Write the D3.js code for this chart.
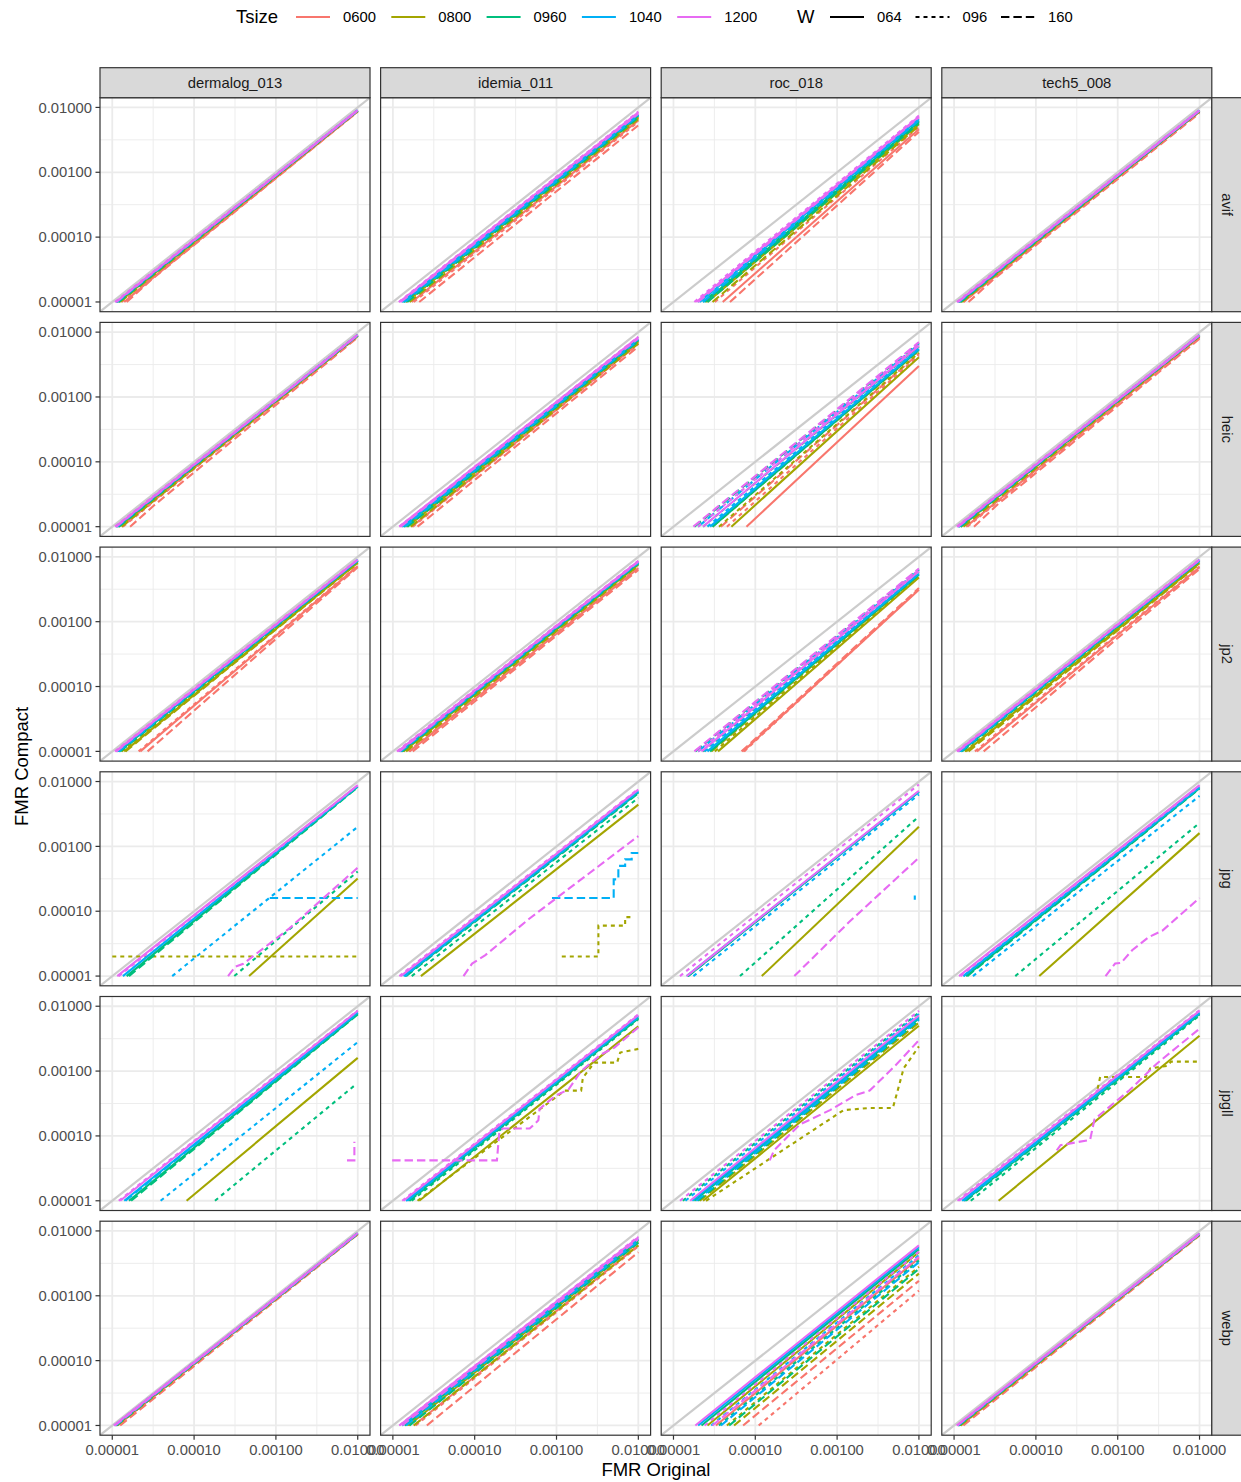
<!DOCTYPE html>
<html>
<head>
<meta charset="utf-8">
<script src="https://cdn.jsdelivr.net/npm/d3@7"></script>
<style>
  body { margin: 0; background: #fff; }
  text { font-family: "Liberation Sans", Arial, Helvetica, sans-serif; }
</style>
</head>
<body>
<div id="chart"></div>
<script>
// facets, groups and ticks
const algorithms = ["dermalog_013", "idemia_011", "roc_018", "tech5_008"];
const formats = ["avif", "heic", "jp2", "jpg", "jpgll", "webp"];
const tsizes = ["0600", "0800", "0960", "1040", "1200"];
const widths = ["064", "096", "160"];
const majorBreaks = [1e-5, 1e-4, 1e-3, 1e-2];
const minorBreaks = [3.1623e-5, 3.1623e-4, 3.1623e-3];
const tickLabels = ["0.00001", "0.00010", "0.00100", "0.01000"];

// each series: [algorithm, Tsize, W, [x, y, x, y, ...]] (FMR original, FMR compact)
const avif = [
  ["dermalog_013", "0600", "064", [1.4e-5, 1e-5, 2.8e-5, 2.1e-5, 1e-2, 8.7e-3]],
  ["dermalog_013", "0600", "096", [1.3e-5, 1e-5, 1e-2, 8.8e-3]],
  ["dermalog_013", "0600", "160", [1.5e-5, 1e-5, 3e-5, 2.2e-5, 1e-2, 8.6e-3]],
  ["dermalog_013", "0800", "064", [1.2e-5, 1e-5, 1e-2, 8.9e-3]],
  ["dermalog_013", "0800", "096", [1.15e-5, 1e-5, 1e-2, 8.9e-3]],
  ["dermalog_013", "0800", "160", [1.25e-5, 1e-5, 1e-2, 8.8e-3]],
  ["dermalog_013", "0960", "064", [1.15e-5, 1e-5, 1e-2, 9.0e-3]],
  ["dermalog_013", "0960", "096", [1.12e-5, 1e-5, 1e-2, 9.0e-3]],
  ["dermalog_013", "0960", "160", [1.2e-5, 1e-5, 1e-2, 8.9e-3]],
  ["dermalog_013", "1040", "064", [1.12e-5, 1e-5, 1e-2, 9.0e-3]],
  ["dermalog_013", "1040", "096", [1.1e-5, 1e-5, 1e-2, 9.1e-3]],
  ["dermalog_013", "1040", "160", [1.15e-5, 1e-5, 1e-2, 9.0e-3]],
  ["dermalog_013", "1200", "064", [1.1e-5, 1e-5, 1e-2, 9.1e-3]],
  ["dermalog_013", "1200", "096", [1.08e-5, 1e-5, 1e-2, 9.1e-3]],
  ["dermalog_013", "1200", "160", [1.12e-5, 1e-5, 1e-2, 9.0e-3]],
  ["idemia_011", "0600", "064", [1.7e-5, 1e-5, 1e-2, 6.3e-3]],
  ["idemia_011", "0600", "096", [1.8e-5, 1e-5, 1e-2, 6.0e-3]],
  ["idemia_011", "0600", "160", [2.1e-5, 1e-5, 1e-2, 5.3e-3]],
  ["idemia_011", "0800", "064", [1.45e-5, 1e-5, 1e-2, 7.0e-3]],
  ["idemia_011", "0800", "096", [1.45e-5, 1e-5, 1e-2, 7.1e-3]],
  ["idemia_011", "0800", "160", [1.6e-5, 1e-5, 1e-2, 6.6e-3]],
  ["idemia_011", "0960", "064", [1.35e-5, 1e-5, 1e-2, 7.5e-3]],
  ["idemia_011", "0960", "096", [1.35e-5, 1e-5, 1e-2, 7.6e-3]],
  ["idemia_011", "0960", "160", [1.5e-5, 1e-5, 1e-2, 7.0e-3]],
  ["idemia_011", "1040", "064", [1.3e-5, 1e-5, 1e-2, 7.8e-3]],
  ["idemia_011", "1040", "096", [1.3e-5, 1e-5, 1e-2, 7.9e-3]],
  ["idemia_011", "1040", "160", [1.4e-5, 1e-5, 1e-2, 7.4e-3]],
  ["idemia_011", "1200", "064", [1.2e-5, 1e-5, 1e-2, 8.4e-3]],
  ["idemia_011", "1200", "096", [1.18e-5, 1e-5, 1e-2, 8.6e-3]],
  ["idemia_011", "1200", "160", [1.25e-5, 1e-5, 1e-2, 8.0e-3]],
  ["roc_018", "0600", "064", [4.0e-5, 1e-5, 1e-2, 4.6e-3]],
  ["roc_018", "0600", "096", [3.2e-5, 1e-5, 1e-2, 5.0e-3]],
  ["roc_018", "0600", "160", [4.9e-5, 1e-5, 1e-2, 4.2e-3]],
  ["roc_018", "0800", "064", [2.6e-5, 1e-5, 1e-2, 5.5e-3]],
  ["roc_018", "0800", "096", [2.5e-5, 1e-5, 1e-2, 5.8e-3]],
  ["roc_018", "0800", "160", [3.0e-5, 1e-5, 1e-2, 5.2e-3]],
  ["roc_018", "0960", "064", [2.4e-5, 1e-5, 1e-2, 6.0e-3]],
  ["roc_018", "0960", "096", [2.3e-5, 1e-5, 1e-2, 6.2e-3]],
  ["roc_018", "0960", "160", [2.6e-5, 1e-5, 1e-2, 5.7e-3]],
  ["roc_018", "1040", "064", [2.1e-5, 1e-5, 1e-2, 6.6e-3]],
  ["roc_018", "1040", "096", [2.0e-5, 1e-5, 1e-2, 6.8e-3]],
  ["roc_018", "1040", "160", [2.3e-5, 1e-5, 1e-2, 6.3e-3]],
  ["roc_018", "1200", "064", [1.9e-5, 1e-5, 1e-2, 7.2e-3]],
  ["roc_018", "1200", "096", [1.8e-5, 1e-5, 1e-2, 7.5e-3]],
  ["roc_018", "1200", "160", [2.0e-5, 1e-5, 1e-2, 7.0e-3]],
  ["tech5_008", "0600", "064", [1.3e-5, 1e-5, 1e-2, 8.6e-3]],
  ["tech5_008", "0600", "096", [1.3e-5, 1e-5, 1e-2, 8.6e-3]],
  ["tech5_008", "0600", "160", [1.5e-5, 1e-5, 3e-5, 2.2e-5, 1e-2, 8.2e-3]],
  ["tech5_008", "0800", "064", [1.2e-5, 1e-5, 1e-2, 8.8e-3]],
  ["tech5_008", "0800", "096", [1.18e-5, 1e-5, 1e-2, 8.8e-3]],
  ["tech5_008", "0800", "160", [1.25e-5, 1e-5, 1e-2, 8.7e-3]],
  ["tech5_008", "0960", "064", [1.15e-5, 1e-5, 1e-2, 8.9e-3]],
  ["tech5_008", "0960", "096", [1.15e-5, 1e-5, 1e-2, 8.9e-3]],
  ["tech5_008", "0960", "160", [1.2e-5, 1e-5, 1e-2, 8.8e-3]],
  ["tech5_008", "1040", "064", [1.12e-5, 1e-5, 1e-2, 9.0e-3]],
  ["tech5_008", "1040", "096", [1.1e-5, 1e-5, 1e-2, 9.0e-3]],
  ["tech5_008", "1040", "160", [1.15e-5, 1e-5, 1e-2, 8.9e-3]],
  ["tech5_008", "1200", "064", [1.1e-5, 1e-5, 1e-2, 9.0e-3]],
  ["tech5_008", "1200", "096", [1.08e-5, 1e-5, 1e-2, 9.1e-3]],
  ["tech5_008", "1200", "160", [1.12e-5, 1e-5, 1e-2, 9.0e-3]]
];

const heic = [
  ["dermalog_013", "0600", "064", [1.3e-5, 1e-5, 1e-2, 8.7e-3]],
  ["dermalog_013", "0600", "096", [1.35e-5, 1e-5, 1e-2, 8.6e-3]],
  ["dermalog_013", "0600", "160", [1.65e-5, 1e-5, 3.2e-5, 2.1e-5, 1e-2, 8.3e-3]],
  ["dermalog_013", "0800", "064", [1.2e-5, 1e-5, 1e-2, 8.9e-3]],
  ["dermalog_013", "0800", "096", [1.18e-5, 1e-5, 1e-2, 8.9e-3]],
  ["dermalog_013", "0800", "160", [1.3e-5, 1e-5, 1e-2, 8.7e-3]],
  ["dermalog_013", "0960", "064", [1.15e-5, 1e-5, 1e-2, 9.0e-3]],
  ["dermalog_013", "0960", "096", [1.12e-5, 1e-5, 1e-2, 9.0e-3]],
  ["dermalog_013", "0960", "160", [1.2e-5, 1e-5, 1e-2, 8.9e-3]],
  ["dermalog_013", "1040", "064", [1.12e-5, 1e-5, 1e-2, 9.0e-3]],
  ["dermalog_013", "1040", "096", [1.1e-5, 1e-5, 1e-2, 9.1e-3]],
  ["dermalog_013", "1040", "160", [1.15e-5, 1e-5, 1e-2, 9.0e-3]],
  ["dermalog_013", "1200", "064", [1.1e-5, 1e-5, 1e-2, 9.1e-3]],
  ["dermalog_013", "1200", "096", [1.08e-5, 1e-5, 1e-2, 9.1e-3]],
  ["dermalog_013", "1200", "160", [1.12e-5, 1e-5, 1e-2, 9.0e-3]],
  ["idemia_011", "0600", "064", [1.7e-5, 1e-5, 1e-2, 6.7e-3]],
  ["idemia_011", "0600", "096", [1.75e-5, 1e-5, 1e-2, 6.6e-3]],
  ["idemia_011", "0600", "160", [2.0e-5, 1e-5, 1e-2, 6.0e-3]],
  ["idemia_011", "0800", "064", [1.5e-5, 1e-5, 1e-2, 7.2e-3]],
  ["idemia_011", "0800", "096", [1.45e-5, 1e-5, 1e-2, 7.3e-3]],
  ["idemia_011", "0800", "160", [1.65e-5, 1e-5, 1e-2, 6.7e-3]],
  ["idemia_011", "0960", "064", [1.35e-5, 1e-5, 1e-2, 7.6e-3]],
  ["idemia_011", "0960", "096", [1.35e-5, 1e-5, 1e-2, 7.7e-3]],
  ["idemia_011", "0960", "160", [1.5e-5, 1e-5, 1e-2, 7.2e-3]],
  ["idemia_011", "1040", "064", [1.3e-5, 1e-5, 1e-2, 7.9e-3]],
  ["idemia_011", "1040", "096", [1.3e-5, 1e-5, 1e-2, 8.0e-3]],
  ["idemia_011", "1040", "160", [1.4e-5, 1e-5, 1e-2, 7.5e-3]],
  ["idemia_011", "1200", "064", [1.2e-5, 1e-5, 1e-2, 8.4e-3]],
  ["idemia_011", "1200", "096", [1.2e-5, 1e-5, 1e-2, 8.5e-3]],
  ["idemia_011", "1200", "160", [1.25e-5, 1e-5, 1e-2, 8.0e-3]],
  ["roc_018", "0600", "064", [7.8e-5, 1e-5, 1e-2, 3.0e-3]],
  ["roc_018", "0600", "096", [4.5e-5, 1e-5, 1e-2, 4.4e-3]],
  ["roc_018", "0600", "160", [3.8e-5, 1e-5, 1e-2, 4.7e-3]],
  ["roc_018", "0800", "064", [5.1e-5, 1e-5, 1e-2, 4.1e-3]],
  ["roc_018", "0800", "096", [3.6e-5, 1e-5, 1e-2, 4.8e-3]],
  ["roc_018", "0800", "160", [3.0e-5, 1e-5, 1e-2, 5.2e-3]],
  ["roc_018", "0960", "064", [3.0e-5, 1e-5, 1e-2, 5.3e-3]],
  ["roc_018", "0960", "096", [2.3e-5, 1e-5, 1e-2, 6.0e-3]],
  ["roc_018", "0960", "160", [1.8e-5, 1e-5, 1e-2, 6.8e-3]],
  ["roc_018", "1040", "064", [2.8e-5, 1e-5, 1e-2, 5.5e-3]],
  ["roc_018", "1040", "096", [2.6e-5, 1e-5, 1e-2, 5.8e-3]],
  ["roc_018", "1040", "160", [2.0e-5, 1e-5, 1e-2, 6.5e-3]],
  ["roc_018", "1200", "064", [2.3e-5, 1e-5, 1e-2, 6.2e-3]],
  ["roc_018", "1200", "096", [2.0e-5, 1e-5, 1e-2, 6.6e-3]],
  ["roc_018", "1200", "160", [1.75e-5, 1e-5, 1e-2, 7.0e-3]],
  ["tech5_008", "0600", "064", [1.4e-5, 1e-5, 1e-2, 8.4e-3]],
  ["tech5_008", "0600", "096", [1.45e-5, 1e-5, 1e-2, 8.3e-3]],
  ["tech5_008", "0600", "160", [1.75e-5, 1e-5, 3.4e-5, 2.2e-5, 1e-2, 7.9e-3]],
  ["tech5_008", "0800", "064", [1.2e-5, 1e-5, 1e-2, 8.8e-3]],
  ["tech5_008", "0800", "096", [1.2e-5, 1e-5, 1e-2, 8.8e-3]],
  ["tech5_008", "0800", "160", [1.3e-5, 1e-5, 1e-2, 8.6e-3]],
  ["tech5_008", "0960", "064", [1.15e-5, 1e-5, 1e-2, 8.9e-3]],
  ["tech5_008", "0960", "096", [1.15e-5, 1e-5, 1e-2, 8.9e-3]],
  ["tech5_008", "0960", "160", [1.2e-5, 1e-5, 1e-2, 8.8e-3]],
  ["tech5_008", "1040", "064", [1.12e-5, 1e-5, 1e-2, 9.0e-3]],
  ["tech5_008", "1040", "096", [1.1e-5, 1e-5, 1e-2, 9.0e-3]],
  ["tech5_008", "1040", "160", [1.15e-5, 1e-5, 1e-2, 8.9e-3]],
  ["tech5_008", "1200", "064", [1.1e-5, 1e-5, 1e-2, 9.0e-3]],
  ["tech5_008", "1200", "096", [1.08e-5, 1e-5, 1e-2, 9.1e-3]],
  ["tech5_008", "1200", "160", [1.12e-5, 1e-5, 1e-2, 9.0e-3]]
];

const jp2 = [
  ["dermalog_013", "0600", "064", [2.2e-5, 1e-5, 1e-2, 7.2e-3]],
  ["dermalog_013", "0600", "096", [2.1e-5, 1e-5, 1e-2, 7.4e-3]],
  ["dermalog_013", "0600", "160", [2.7e-5, 1e-5, 1e-2, 6.9e-3]],
  ["dermalog_013", "0800", "064", [1.4e-5, 1e-5, 1e-2, 8.1e-3]],
  ["dermalog_013", "0800", "096", [1.3e-5, 1e-5, 1e-2, 8.3e-3]],
  ["dermalog_013", "0800", "160", [1.45e-5, 1e-5, 1e-2, 8.0e-3]],
  ["dermalog_013", "0960", "064", [1.2e-5, 1e-5, 1e-2, 8.7e-3]],
  ["dermalog_013", "0960", "096", [1.15e-5, 1e-5, 1e-2, 8.8e-3]],
  ["dermalog_013", "0960", "160", [1.25e-5, 1e-5, 1e-2, 8.6e-3]],
  ["dermalog_013", "1040", "064", [1.15e-5, 1e-5, 1e-2, 8.9e-3]],
  ["dermalog_013", "1040", "096", [1.12e-5, 1e-5, 1e-2, 8.9e-3]],
  ["dermalog_013", "1040", "160", [1.2e-5, 1e-5, 1e-2, 8.8e-3]],
  ["dermalog_013", "1200", "064", [1.1e-5, 1e-5, 1e-2, 9.0e-3]],
  ["dermalog_013", "1200", "096", [1.08e-5, 1e-5, 1e-2, 9.1e-3]],
  ["dermalog_013", "1200", "160", [1.12e-5, 1e-5, 1e-2, 9.0e-3]],
  ["idemia_011", "0600", "064", [1.6e-5, 1e-5, 1e-2, 6.7e-3]],
  ["idemia_011", "0600", "096", [1.55e-5, 1e-5, 1e-2, 6.9e-3]],
  ["idemia_011", "0600", "160", [1.75e-5, 1e-5, 1e-2, 6.3e-3]],
  ["idemia_011", "0800", "064", [1.35e-5, 1e-5, 1e-2, 7.6e-3]],
  ["idemia_011", "0800", "096", [1.3e-5, 1e-5, 1e-2, 7.8e-3]],
  ["idemia_011", "0800", "160", [1.45e-5, 1e-5, 1e-2, 7.3e-3]],
  ["idemia_011", "0960", "064", [1.25e-5, 1e-5, 1e-2, 8.0e-3]],
  ["idemia_011", "0960", "096", [1.22e-5, 1e-5, 1e-2, 8.2e-3]],
  ["idemia_011", "0960", "160", [1.3e-5, 1e-5, 1e-2, 7.8e-3]],
  ["idemia_011", "1040", "064", [1.2e-5, 1e-5, 1e-2, 8.3e-3]],
  ["idemia_011", "1040", "096", [1.18e-5, 1e-5, 1e-2, 8.4e-3]],
  ["idemia_011", "1040", "160", [1.25e-5, 1e-5, 1e-2, 8.1e-3]],
  ["idemia_011", "1200", "064", [1.15e-5, 1e-5, 1e-2, 8.6e-3]],
  ["idemia_011", "1200", "096", [1.12e-5, 1e-5, 1e-2, 8.7e-3]],
  ["idemia_011", "1200", "160", [1.2e-5, 1e-5, 1e-2, 8.4e-3]],
  ["roc_018", "0600", "064", [7.1e-5, 1e-5, 1e-2, 3.1e-3]],
  ["roc_018", "0600", "096", [7.3e-5, 1e-5, 1e-2, 3.2e-3]],
  ["roc_018", "0600", "160", [6.8e-5, 1e-5, 1e-2, 3.3e-3]],
  ["roc_018", "0800", "064", [3.5e-5, 1e-5, 1e-2, 4.8e-3]],
  ["roc_018", "0800", "096", [3.2e-5, 1e-5, 1e-2, 5.0e-3]],
  ["roc_018", "0800", "160", [2.9e-5, 1e-5, 1e-2, 5.2e-3]],
  ["roc_018", "0960", "064", [2.8e-5, 1e-5, 1e-2, 5.3e-3]],
  ["roc_018", "0960", "096", [2.3e-5, 1e-5, 1e-2, 5.8e-3]],
  ["roc_018", "0960", "160", [1.85e-5, 1e-5, 1e-2, 6.4e-3]],
  ["roc_018", "1040", "064", [2.6e-5, 1e-5, 1e-2, 5.5e-3]],
  ["roc_018", "1040", "096", [2.4e-5, 1e-5, 1e-2, 5.7e-3]],
  ["roc_018", "1040", "160", [2.0e-5, 1e-5, 1e-2, 6.2e-3]],
  ["roc_018", "1200", "064", [2.2e-5, 1e-5, 1e-2, 6.0e-3]],
  ["roc_018", "1200", "096", [2.0e-5, 1e-5, 1e-2, 6.3e-3]],
  ["roc_018", "1200", "160", [1.8e-5, 1e-5, 1e-2, 6.6e-3]],
  ["tech5_008", "0600", "064", [1.9e-5, 1e-5, 1e-2, 6.9e-3]],
  ["tech5_008", "0600", "096", [1.8e-5, 1e-5, 1e-2, 7.1e-3]],
  ["tech5_008", "0600", "160", [2.3e-5, 1e-5, 1e-2, 6.5e-3]],
  ["tech5_008", "0800", "064", [1.4e-5, 1e-5, 1e-2, 8.0e-3]],
  ["tech5_008", "0800", "096", [1.35e-5, 1e-5, 1e-2, 8.2e-3]],
  ["tech5_008", "0800", "160", [1.5e-5, 1e-5, 1e-2, 7.8e-3]],
  ["tech5_008", "0960", "064", [1.2e-5, 1e-5, 1e-2, 8.7e-3]],
  ["tech5_008", "0960", "096", [1.15e-5, 1e-5, 1e-2, 8.8e-3]],
  ["tech5_008", "0960", "160", [1.25e-5, 1e-5, 1e-2, 8.6e-3]],
  ["tech5_008", "1040", "064", [1.15e-5, 1e-5, 1e-2, 8.9e-3]],
  ["tech5_008", "1040", "096", [1.12e-5, 1e-5, 1e-2, 8.9e-3]],
  ["tech5_008", "1040", "160", [1.2e-5, 1e-5, 1e-2, 8.8e-3]],
  ["tech5_008", "1200", "064", [1.1e-5, 1e-5, 1e-2, 9.0e-3]],
  ["tech5_008", "1200", "096", [1.08e-5, 1e-5, 1e-2, 9.1e-3]],
  ["tech5_008", "1200", "160", [1.12e-5, 1e-5, 1e-2, 9.0e-3]]
];

const jpg = [
  ["dermalog_013", "0800", "064", [4.7e-4, 1e-5, 1e-2, 3.2e-4]],
  ["dermalog_013", "0800", "096", [1e-5, 2.0e-5, 1e-2, 2.0e-5]],
  ["dermalog_013", "0960", "064", [1.5e-5, 1e-5, 1e-2, 8.3e-3]],
  ["dermalog_013", "0960", "096", [3.1e-4, 1e-5, 1e-2, 4.1e-4]],
  ["dermalog_013", "0960", "160", [1.6e-5, 1e-5, 1e-2, 8.2e-3]],
  ["dermalog_013", "1040", "064", [1.35e-5, 1e-5, 1e-2, 8.5e-3]],
  ["dermalog_013", "1040", "096", [5.4e-5, 1e-5, 1e-2, 2.0e-3]],
  ["dermalog_013", "1040", "160", [8.4e-4, 1.6e-4, 1e-2, 1.6e-4]],
  ["dermalog_013", "1200", "064", [1.15e-5, 1e-5, 1e-2, 8.8e-3]],
  ["dermalog_013", "1200", "096", [1.2e-5, 1e-5, 1e-2, 8.7e-3]],
  ["dermalog_013", "1200", "160", [2.6e-4, 1e-5, 3.2e-4, 1.4e-5, 4e-4, 1.55e-5, 1.45e-3, 5.4e-5, 1e-2, 4.7e-4]],
  ["idemia_011", "0800", "064", [2.2e-5, 1e-5, 1e-2, 4.4e-3]],
  ["idemia_011", "0800", "096", [1.16e-3, 2.0e-5, 3.25e-3, 2.0e-5, 3.25e-3, 6.0e-5, 6.9e-3, 6.0e-5, 6.9e-3, 8.1e-5, 8.7e-3, 8.1e-5]],
  ["idemia_011", "0960", "064", [1.4e-5, 1e-5, 1e-2, 6.8e-3]],
  ["idemia_011", "0960", "096", [1.7e-5, 1e-5, 1e-2, 5.6e-3]],
  ["idemia_011", "0960", "160", [1.45e-5, 1e-5, 1e-2, 6.6e-3]],
  ["idemia_011", "1040", "064", [1.35e-5, 1e-5, 1e-2, 7.1e-3]],
  ["idemia_011", "1040", "096", [1.4e-5, 1e-5, 1e-2, 6.9e-3]],
  ["idemia_011", "1040", "160", [8.8e-4, 1.6e-4, 5.0e-3, 1.6e-4, 5.0e-3, 3.1e-4, 5.7e-3, 3.1e-4, 5.7e-3, 5.0e-4, 6.9e-3, 5.0e-4, 6.9e-3, 6.3e-4, 8.3e-3, 6.3e-4, 8.3e-3, 7.9e-4, 1e-2, 7.9e-4]],
  ["idemia_011", "1200", "064", [1.25e-5, 1e-5, 1e-2, 7.5e-3]],
  ["idemia_011", "1200", "096", [1.2e-5, 1e-5, 1e-2, 7.7e-3]],
  ["idemia_011", "1200", "160", [7.3e-5, 1e-5, 9.3e-5, 1.56e-5, 1.35e-4, 2.1e-5, 4.6e-4, 7.6e-5, 1e-2, 1.44e-3]],
  ["roc_018", "0800", "064", [1.2e-4, 1e-5, 1e-2, 2.0e-3]],
  ["roc_018", "0960", "064", [1.5e-5, 1e-5, 1e-2, 6.9e-3]],
  ["roc_018", "0960", "096", [6.5e-5, 1e-5, 1e-2, 2.9e-3]],
  ["roc_018", "0960", "160", [1.5e-5, 1e-5, 1e-2, 7.0e-3]],
  ["roc_018", "1040", "064", [1.45e-5, 1e-5, 1e-2, 7.0e-3]],
  ["roc_018", "1040", "096", [1.75e-5, 1e-5, 1e-2, 6.3e-3]],
  ["roc_018", "1040", "160", [8.9e-3, 1.5e-4, 8.9e-3, 1.75e-4]],
  ["roc_018", "1200", "064", [1.45e-5, 1e-5, 1e-2, 7.2e-3]],
  ["roc_018", "1200", "096", [1.2e-5, 1e-5, 1e-2, 9.0e-3]],
  ["roc_018", "1200", "160", [3.0e-4, 1e-5, 1.4e-3, 6.8e-5, 1e-2, 6.7e-4]],
  ["tech5_008", "0800", "064", [1.1e-4, 1e-5, 1e-2, 1.6e-3]],
  ["tech5_008", "0960", "064", [1.4e-5, 1e-5, 1e-2, 7.9e-3]],
  ["tech5_008", "0960", "096", [5.6e-5, 1e-5, 1e-2, 2.3e-3]],
  ["tech5_008", "0960", "160", [1.45e-5, 1e-5, 1e-2, 7.8e-3]],
  ["tech5_008", "1040", "064", [1.3e-5, 1e-5, 1e-2, 8.2e-3]],
  ["tech5_008", "1040", "096", [1.7e-5, 1e-5, 1e-2, 6.0e-3]],
  ["tech5_008", "1040", "160", [1.3e-5, 1e-5, 1e-2, 8.1e-3]],
  ["tech5_008", "1200", "064", [1.15e-5, 1e-5, 1e-2, 8.8e-3]],
  ["tech5_008", "1200", "096", [1.2e-5, 1e-5, 1e-2, 8.6e-3]],
  ["tech5_008", "1200", "160", [7.1e-4, 1e-5, 9.3e-4, 1.56e-5, 1.1e-3, 1.6e-5, 1.5e-3, 2.5e-5, 2.4e-3, 4.0e-5, 3.5e-3, 5.0e-5, 1e-2, 1.6e-4]]
];

const jpgll = [
  ["dermalog_013", "0800", "064", [8.1e-5, 1e-5, 1e-2, 1.6e-3]],
  ["dermalog_013", "0960", "064", [1.6e-5, 1e-5, 1e-2, 7.6e-3]],
  ["dermalog_013", "0960", "096", [1.8e-4, 1e-5, 9.3e-3, 6.1e-4]],
  ["dermalog_013", "0960", "160", [1.7e-5, 1e-5, 1e-2, 7.5e-3]],
  ["dermalog_013", "1040", "064", [1.4e-5, 1e-5, 1e-2, 8.0e-3]],
  ["dermalog_013", "1040", "096", [3.9e-5, 1e-5, 1e-2, 2.8e-3]],
  ["dermalog_013", "1040", "160", [1.45e-5, 1e-5, 1e-2, 7.9e-3]],
  ["dermalog_013", "1200", "064", [1.25e-5, 1e-5, 1e-2, 8.5e-3]],
  ["dermalog_013", "1200", "096", [1.2e-5, 1e-5, 1e-2, 8.6e-3]],
  ["dermalog_013", "1200", "160", [7.4e-3, 4.2e-5, 9.1e-3, 4.2e-5, 9.1e-3, 8.1e-5]],
  ["idemia_011", "0800", "064", [2.1e-5, 1e-5, 1e-2, 4.9e-3]],
  ["idemia_011", "0800", "096", [2.0e-5, 1e-5, 1.26e-3, 5.0e-4, 2.0e-3, 5.0e-4, 2.1e-3, 7.9e-4, 2.9e-3, 1.35e-3, 5.5e-3, 1.35e-3, 6.0e-3, 1.93e-3, 1e-2, 2.2e-3]],
  ["idemia_011", "0960", "064", [1.55e-5, 1e-5, 1e-2, 6.6e-3]],
  ["idemia_011", "0960", "096", [1.7e-5, 1e-5, 1e-2, 6.3e-3]],
  ["idemia_011", "0960", "160", [1.6e-5, 1e-5, 1e-2, 6.5e-3]],
  ["idemia_011", "1040", "064", [1.45e-5, 1e-5, 1e-2, 7.0e-3]],
  ["idemia_011", "1040", "096", [1.45e-5, 1e-5, 1e-2, 6.9e-3]],
  ["idemia_011", "1040", "160", [1.5e-5, 1e-5, 1e-2, 6.8e-3]],
  ["idemia_011", "1200", "064", [1.35e-5, 1e-5, 1e-2, 7.3e-3]],
  ["idemia_011", "1200", "096", [1.3e-5, 1e-5, 1e-2, 7.5e-3]],
  ["idemia_011", "1200", "160", [9.8e-6, 4.2e-5, 1.87e-4, 4.2e-5, 2.0e-4, 1.15e-4, 2.2e-4, 1.3e-4, 4.7e-4, 1.3e-4, 6.0e-4, 1.74e-4, 6.2e-4, 2.6e-4, 8.2e-4, 3.5e-4, 9.8e-4, 4.2e-4, 1.4e-3, 5.2e-4, 2.0e-3, 1.0e-3, 3.5e-3, 1.8e-3, 5.1e-3, 2.3e-3, 1e-2, 4.7e-3]],
  ["roc_018", "0800", "064", [2.3e-5, 1e-5, 1e-2, 5.0e-3]],
  ["roc_018", "0800", "096", [2.5e-5, 1e-5, 1.2e-3, 2.5e-4, 2.5e-3, 2.7e-4, 4.8e-3, 2.7e-4, 5.5e-3, 5.0e-4, 6.5e-3, 1.1e-3, 1e-2, 2.4e-3]],
  ["roc_018", "0800", "160", [2.1e-5, 1e-5, 1e-2, 5.6e-3]],
  ["roc_018", "0960", "064", [1.8e-5, 1e-5, 1e-2, 6.5e-3]],
  ["roc_018", "0960", "096", [1.3e-5, 1e-5, 1e-2, 8.0e-3]],
  ["roc_018", "0960", "160", [2.0e-5, 1e-5, 1e-2, 6.0e-3]],
  ["roc_018", "1040", "064", [1.7e-5, 1e-5, 1e-2, 6.8e-3]],
  ["roc_018", "1040", "096", [1.4e-5, 1e-5, 1e-2, 7.6e-3]],
  ["roc_018", "1040", "160", [1.9e-5, 1e-5, 1e-2, 6.2e-3]],
  ["roc_018", "1200", "064", [1.6e-5, 1e-5, 1e-2, 7.2e-3]],
  ["roc_018", "1200", "096", [1.2e-5, 1e-5, 1e-2, 8.5e-3]],
  ["roc_018", "1200", "160", [1.5e-4, 4.2e-5, 1.7e-4, 6.0e-5, 3.5e-4, 1.5e-4, 8.2e-4, 2.5e-4, 1.7e-3, 4.3e-4, 2.5e-3, 5.0e-4, 5.1e-3, 1.2e-3, 1e-2, 3.0e-3]],
  ["tech5_008", "0800", "064", [3.5e-5, 1e-5, 1e-2, 3.5e-3]],
  ["tech5_008", "0800", "096", [1.3e-5, 1e-5, 5.5e-4, 4.4e-4, 6.1e-4, 8.1e-4, 2.2e-3, 8.1e-4, 2.5e-3, 1.1e-3, 4.0e-3, 1.2e-3, 4.5e-3, 1.4e-3, 1e-2, 1.4e-3]],
  ["tech5_008", "0960", "064", [1.35e-5, 1e-5, 1e-2, 7.6e-3]],
  ["tech5_008", "0960", "096", [1.6e-5, 1e-5, 1e-2, 7.2e-3]],
  ["tech5_008", "0960", "160", [1.4e-5, 1e-5, 1e-2, 7.5e-3]],
  ["tech5_008", "1040", "064", [1.25e-5, 1e-5, 1e-2, 8.0e-3]],
  ["tech5_008", "1040", "096", [1.3e-5, 1e-5, 1e-2, 7.8e-3]],
  ["tech5_008", "1040", "160", [1.3e-5, 1e-5, 1e-2, 7.9e-3]],
  ["tech5_008", "1200", "064", [1.15e-5, 1e-5, 1e-2, 8.5e-3]],
  ["tech5_008", "1200", "096", [1.1e-5, 1e-5, 1e-2, 8.7e-3]],
  ["tech5_008", "1200", "160", [1.8e-4, 6.0e-5, 2.0e-4, 7.2e-5, 4.6e-4, 8.7e-5, 5.2e-4, 1.8e-4, 6.0e-4, 2.1e-4, 1.4e-3, 5.1e-4, 3.0e-3, 1.3e-3, 1e-2, 4.5e-3]]
];

const webp = [
  ["dermalog_013", "0600", "064", [1.15e-5, 1e-5, 1e-2, 9.0e-3]],
  ["dermalog_013", "0600", "096", [1.15e-5, 1e-5, 1e-2, 9.0e-3]],
  ["dermalog_013", "0600", "160", [1.25e-5, 1e-5, 1e-2, 8.8e-3]],
  ["dermalog_013", "0800", "064", [1.1e-5, 1e-5, 1e-2, 9.1e-3]],
  ["dermalog_013", "0800", "096", [1.1e-5, 1e-5, 1e-2, 9.1e-3]],
  ["dermalog_013", "0800", "160", [1.15e-5, 1e-5, 1e-2, 9.0e-3]],
  ["dermalog_013", "0960", "064", [1.08e-5, 1e-5, 1e-2, 9.2e-3]],
  ["dermalog_013", "0960", "096", [1.08e-5, 1e-5, 1e-2, 9.2e-3]],
  ["dermalog_013", "0960", "160", [1.12e-5, 1e-5, 1e-2, 9.1e-3]],
  ["dermalog_013", "1040", "064", [1.06e-5, 1e-5, 1e-2, 9.2e-3]],
  ["dermalog_013", "1040", "096", [1.06e-5, 1e-5, 1e-2, 9.3e-3]],
  ["dermalog_013", "1040", "160", [1.1e-5, 1e-5, 1e-2, 9.1e-3]],
  ["dermalog_013", "1200", "064", [1.05e-5, 1e-5, 1e-2, 9.3e-3]],
  ["dermalog_013", "1200", "096", [1.05e-5, 1e-5, 1e-2, 9.3e-3]],
  ["dermalog_013", "1200", "160", [1.08e-5, 1e-5, 1e-2, 9.2e-3]],
  ["idemia_011", "0600", "064", [1.8e-5, 1e-5, 1e-2, 6.0e-3]],
  ["idemia_011", "0600", "096", [1.9e-5, 1e-5, 1e-2, 5.8e-3]],
  ["idemia_011", "0600", "160", [2.6e-5, 1e-5, 1e-2, 4.7e-3]],
  ["idemia_011", "0800", "064", [1.55e-5, 1e-5, 1e-2, 6.7e-3]],
  ["idemia_011", "0800", "096", [1.5e-5, 1e-5, 1e-2, 6.9e-3]],
  ["idemia_011", "0800", "160", [1.8e-5, 1e-5, 1e-2, 6.0e-3]],
  ["idemia_011", "0960", "064", [1.4e-5, 1e-5, 1e-2, 7.2e-3]],
  ["idemia_011", "0960", "096", [1.4e-5, 1e-5, 1e-2, 7.4e-3]],
  ["idemia_011", "0960", "160", [1.6e-5, 1e-5, 1e-2, 6.6e-3]],
  ["idemia_011", "1040", "064", [1.3e-5, 1e-5, 1e-2, 7.6e-3]],
  ["idemia_011", "1040", "096", [1.3e-5, 1e-5, 1e-2, 7.8e-3]],
  ["idemia_011", "1040", "160", [1.45e-5, 1e-5, 1e-2, 7.0e-3]],
  ["idemia_011", "1200", "064", [1.2e-5, 1e-5, 1e-2, 8.0e-3]],
  ["idemia_011", "1200", "096", [1.2e-5, 1e-5, 1e-2, 8.2e-3]],
  ["idemia_011", "1200", "160", [1.3e-5, 1e-5, 1e-2, 7.5e-3]],
  ["roc_018", "0600", "064", [3.3e-5, 1e-5, 1e-2, 3.8e-3]],
  ["roc_018", "0600", "096", [1.1e-4, 1e-5, 1e-2, 1.2e-3]],
  ["roc_018", "0600", "160", [7.1e-5, 1e-5, 1e-2, 1.7e-3]],
  ["roc_018", "0800", "064", [2.6e-5, 1e-5, 1e-2, 4.7e-3]],
  ["roc_018", "0800", "096", [4.5e-5, 1e-5, 1e-2, 2.8e-3]],
  ["roc_018", "0800", "160", [5.5e-5, 1e-5, 1e-2, 2.2e-3]],
  ["roc_018", "0960", "064", [2.2e-5, 1e-5, 1e-2, 5.2e-3]],
  ["roc_018", "0960", "096", [3.6e-5, 1e-5, 1e-2, 3.5e-3]],
  ["roc_018", "0960", "160", [4.8e-5, 1e-5, 1e-2, 2.6e-3]],
  ["roc_018", "1040", "064", [2.0e-5, 1e-5, 1e-2, 5.6e-3]],
  ["roc_018", "1040", "096", [2.9e-5, 1e-5, 1e-2, 4.2e-3]],
  ["roc_018", "1040", "160", [3.8e-5, 1e-5, 1e-2, 3.3e-3]],
  ["roc_018", "1200", "064", [1.85e-5, 1e-5, 1e-2, 6.0e-3]],
  ["roc_018", "1200", "096", [2.4e-5, 1e-5, 1e-2, 4.8e-3]],
  ["roc_018", "1200", "160", [3.0e-5, 1e-5, 1e-2, 4.0e-3]],
  ["tech5_008", "0600", "064", [1.2e-5, 1e-5, 1e-2, 8.8e-3]],
  ["tech5_008", "0600", "096", [1.2e-5, 1e-5, 1e-2, 8.7e-3]],
  ["tech5_008", "0600", "160", [1.3e-5, 1e-5, 1e-2, 8.5e-3]],
  ["tech5_008", "0800", "064", [1.15e-5, 1e-5, 1e-2, 8.9e-3]],
  ["tech5_008", "0800", "096", [1.15e-5, 1e-5, 1e-2, 8.9e-3]],
  ["tech5_008", "0800", "160", [1.2e-5, 1e-5, 1e-2, 8.7e-3]],
  ["tech5_008", "0960", "064", [1.12e-5, 1e-5, 1e-2, 9.0e-3]],
  ["tech5_008", "0960", "096", [1.12e-5, 1e-5, 1e-2, 9.0e-3]],
  ["tech5_008", "0960", "160", [1.15e-5, 1e-5, 1e-2, 8.9e-3]],
  ["tech5_008", "1040", "064", [1.1e-5, 1e-5, 1e-2, 9.0e-3]],
  ["tech5_008", "1040", "096", [1.1e-5, 1e-5, 1e-2, 9.0e-3]],
  ["tech5_008", "1040", "160", [1.12e-5, 1e-5, 1e-2, 8.9e-3]],
  ["tech5_008", "1200", "064", [1.08e-5, 1e-5, 1e-2, 9.1e-3]],
  ["tech5_008", "1200", "096", [1.08e-5, 1e-5, 1e-2, 9.1e-3]],
  ["tech5_008", "1200", "160", [1.1e-5, 1e-5, 1e-2, 9.0e-3]]
];

const seriesByFormat = { avif, heic, jp2, jpg, jpgll, webp };

// layout
const MARGIN = { LEFT: 100, TOP: 97.7 };
const PANEL_W = 270, PANEL_H = 214;
const STEP_X = 280.6, STEP_Y = 224.7;
const STRIP = 30;
const LINE_W = 2.1;

const color = d3.scaleOrdinal().domain(tsizes)
  .range(["#F8766D", "#A3A500", "#00BF7D", "#00B0F6", "#E76BF3"]);
const dash = d3.scaleOrdinal().domain(widths).range(["none", "4,4", "8.4,4"]);

const x = d3.scaleLog().domain([Math.pow(10, -5.15), Math.pow(10, -1.85)]).range([0, PANEL_W]);
const y = d3.scaleLog().domain([Math.pow(10, -5.15), Math.pow(10, -1.85)]).range([PANEL_H, 0]);

const line = d3.line().x((d) => x(d[0])).y((d) => y(d[1]));
const toPairs = (flat) => d3.range(0, flat.length, 2).map((i) => [flat[i], flat[i + 1]]);

const svg = d3.select("#chart").append("svg")
  .attr("width", 1241).attr("height", 1482)
  .style("background", "#fff");

svg.append("defs").append("clipPath").attr("id", "panel-clip")
  .append("rect").attr("width", PANEL_W).attr("height", PANEL_H);

formats.forEach((fmt, r) => {
  algorithms.forEach((algo, c) => {
    const g = svg.append("g")
      .attr("transform", `translate(${MARGIN.LEFT + c * STEP_X}, ${MARGIN.TOP + r * STEP_Y})`);

    g.append("rect").attr("width", PANEL_W).attr("height", PANEL_H).attr("fill", "#fff");

    const grid = g.append("g");
    minorBreaks.forEach((v) => {
      grid.append("line").attr("x1", x(v)).attr("x2", x(v)).attr("y1", 0).attr("y2", PANEL_H)
        .attr("stroke", "#ebebeb").attr("stroke-width", 0.9);
      grid.append("line").attr("y1", y(v)).attr("y2", y(v)).attr("x1", 0).attr("x2", PANEL_W)
        .attr("stroke", "#ebebeb").attr("stroke-width", 0.9);
    });
    majorBreaks.forEach((v) => {
      grid.append("line").attr("x1", x(v)).attr("x2", x(v)).attr("y1", 0).attr("y2", PANEL_H)
        .attr("stroke", "#ebebeb").attr("stroke-width", 1.8);
      grid.append("line").attr("y1", y(v)).attr("y2", y(v)).attr("x1", 0).attr("x2", PANEL_W)
        .attr("stroke", "#ebebeb").attr("stroke-width", 1.8);
    });

    const plot = g.append("g").attr("clip-path", "url(#panel-clip)");

    // identity line
    const dom = x.domain();
    plot.append("line")
      .attr("x1", x(dom[0])).attr("y1", y(dom[0]))
      .attr("x2", x(dom[1])).attr("y2", y(dom[1]))
      .attr("stroke", "#cccccc").attr("stroke-width", 2.2);

    const series = seriesByFormat[fmt]
      .filter((s) => s[0] === algo)
      .sort((a, b) => (tsizes.indexOf(a[1]) - tsizes.indexOf(b[1])) ||
        (widths.indexOf(a[2]) - widths.indexOf(b[2])));

    plot.selectAll("path.series")
      .data(series)
      .enter()
      .append("path")
      .attr("class", "series")
      .attr("d", (d) => line(toPairs(d[3])))
      .attr("fill", "none")
      .attr("stroke", (d) => color(d[1]))
      .attr("stroke-width", LINE_W)
      .attr("stroke-dasharray", (d) => dash(d[2]));

    g.append("rect").attr("width", PANEL_W).attr("height", PANEL_H)
      .attr("fill", "none").attr("stroke", "#333333").attr("stroke-width", 1.2);

    // top strips
    if (r === 0) {
      const s = g.append("g").attr("transform", `translate(0, ${-STRIP})`);
      s.append("rect").attr("width", PANEL_W).attr("height", STRIP)
        .attr("fill", "#d9d9d9").attr("stroke", "#333333").attr("stroke-width", 1.2);
      s.append("text").attr("x", PANEL_W / 2).attr("y", STRIP / 2).attr("dy", "0.35em")
        .attr("text-anchor", "middle").attr("font-size", "14.8px").attr("fill", "#1a1a1a")
        .text(algo);
    }
    // right strips
    if (c === algorithms.length - 1) {
      const s = g.append("g").attr("transform", `translate(${PANEL_W}, 0)`);
      s.append("rect").attr("width", STRIP).attr("height", PANEL_H)
        .attr("fill", "#d9d9d9").attr("stroke", "#333333").attr("stroke-width", 1.2);
      s.append("text")
        .attr("transform", `translate(${STRIP / 2}, ${PANEL_H / 2}) rotate(90)`)
        .attr("dy", "0.35em").attr("text-anchor", "middle")
        .attr("font-size", "14.8px").attr("fill", "#1a1a1a")
        .text(fmt);
    }
    // y axis
    if (c === 0) {
      majorBreaks.forEach((v, i) => {
        g.append("line").attr("x1", -4.5).attr("x2", 0).attr("y1", y(v)).attr("y2", y(v))
          .attr("stroke", "#333333").attr("stroke-width", 1.2);
        g.append("text").attr("x", -8).attr("y", y(v)).attr("dy", "0.35em")
          .attr("text-anchor", "end").attr("font-size", "14.8px").attr("fill", "#4d4d4d")
          .text(tickLabels[i]);
      });
    }
    // x axis
    if (r === formats.length - 1) {
      majorBreaks.forEach((v, i) => {
        g.append("line").attr("y1", PANEL_H).attr("y2", PANEL_H + 4.5).attr("x1", x(v)).attr("x2", x(v))
          .attr("stroke", "#333333").attr("stroke-width", 1.2);
        g.append("text").attr("x", x(v)).attr("y", PANEL_H + 15).attr("dy", "0.35em")
          .attr("text-anchor", "middle").attr("font-size", "14.8px").attr("fill", "#4d4d4d")
          .text(tickLabels[i]);
      });
    }
  });
});

// axis titles
svg.append("text")
  .attr("x", MARGIN.LEFT + (3 * STEP_X + PANEL_W) / 2).attr("y", 1470).attr("dy", "0.35em")
  .attr("text-anchor", "middle").attr("font-size", "18.5px").attr("fill", "#000")
  .text("FMR Original");
svg.append("text")
  .attr("transform", `translate(22, ${MARGIN.TOP + (5 * STEP_Y + PANEL_H) / 2}) rotate(-90)`)
  .attr("dy", "0.35em").attr("text-anchor", "middle").attr("font-size", "18.5px").attr("fill", "#000")
  .text("FMR Compact");

// legend
const legend = svg.append("g").attr("transform", "translate(0, 17)");
legend.append("text").attr("x", 236).attr("dy", "0.35em").attr("font-size", "18.5px").text("Tsize");
tsizes.forEach((t, i) => {
  const lx = 296 + i * 95.3;
  legend.append("line").attr("x1", lx).attr("x2", lx + 34)
    .attr("stroke", color(t)).attr("stroke-width", LINE_W);
  legend.append("text").attr("x", lx + 47).attr("dy", "0.35em")
    .attr("font-size", "14.8px").attr("fill", "#000").text(t);
});
legend.append("text").attr("x", 797).attr("dy", "0.35em").attr("font-size", "18.5px").text("W");
widths.forEach((w, i) => {
  const lx = 830 + i * 85.5;
  legend.append("line").attr("x1", lx).attr("x2", lx + 34)
    .attr("stroke", "#000").attr("stroke-width", LINE_W)
    .attr("stroke-dasharray", dash(w));
  legend.append("text").attr("x", lx + 47).attr("dy", "0.35em")
    .attr("font-size", "14.8px").attr("fill", "#000").text(w);
});
</script>
</body>
</html>
